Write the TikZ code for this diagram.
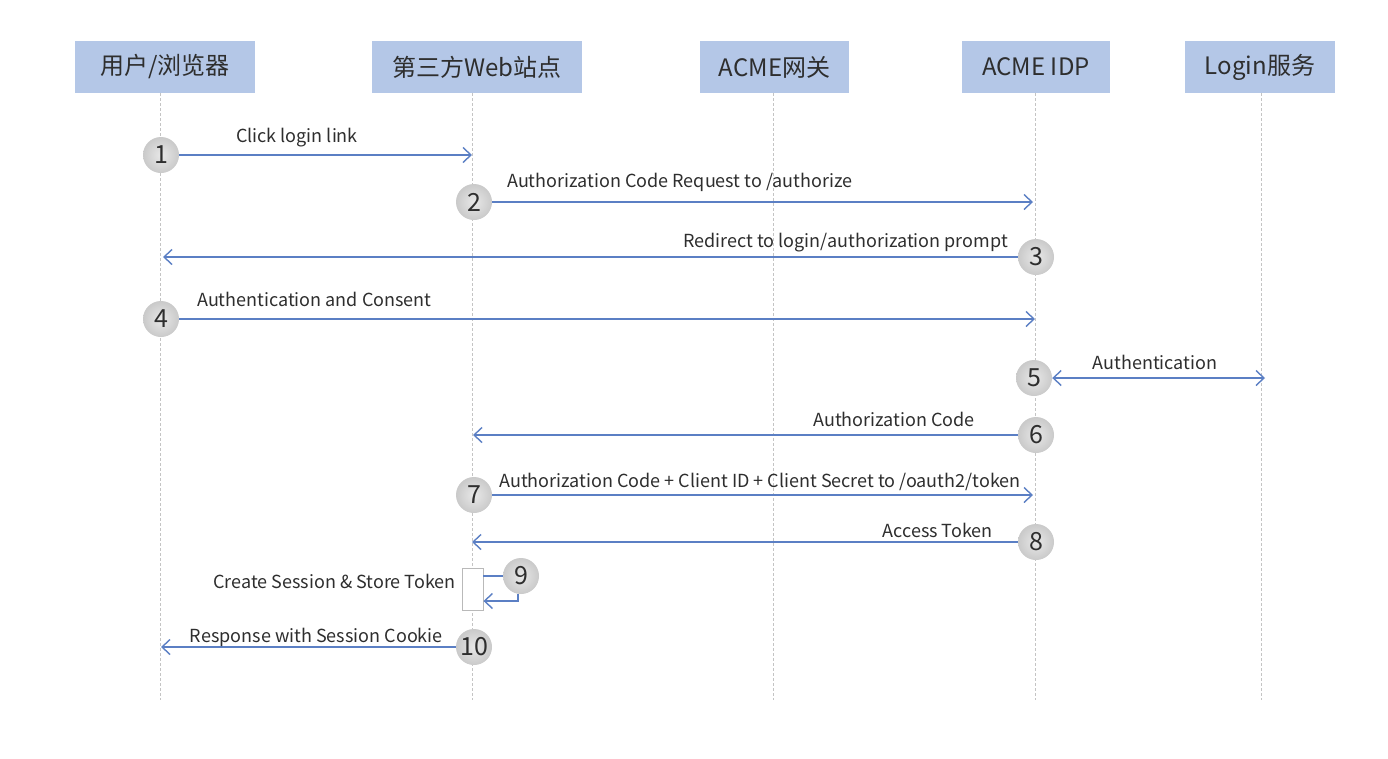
\documentclass[tikz,border=0pt]{standalone}
\usepackage{fontspec}
\setmainfont{Noto Sans CJK SC}
\usetikzlibrary{arrows.meta,calc}
\definecolor{hdr}{HTML}{B4C7E7}
\definecolor{msg}{HTML}{5B7FC4}
\definecolor{txt}{HTML}{2E2E2E}
\definecolor{life}{HTML}{C4C4C4}
\begin{document}
\begin{tikzpicture}[x=1pt,y=-1pt,
 hdrbox/.style={fill=hdr, minimum height=52pt, inner sep=0pt, font=\fontsize{24}{28}\selectfont, text=txt},
 lifeline/.style={draw=life, line width=0.9pt, dash pattern=on 3pt off 2pt},
 numc/.style={circle, shading=radial, inner color=gray!18, outer color=gray!42, minimum size=36pt, inner sep=0pt, font=\fontsize{25}{28}\selectfont, text=txt},
 msgline/.style={draw=msg, line width=1.4pt, -{Straight Barb[length=8pt,width=15pt,line width=1.4pt]}},
 lbl/.style={font=\fontsize{18}{21}\selectfont, text=txt, inner sep=0pt}
]
\useasboundingbox[fill=white] (0,0) rectangle (1388,758);
% headers
\node[hdrbox, minimum width=180pt] (h1) at (165,67) {用户/浏览器};
\node[hdrbox, minimum width=210pt] (h2) at (477,67) {第三方Web站点};
\node[hdrbox, minimum width=149pt] (h3) at (774.5,67) {ACME网关};
\node[hdrbox, minimum width=148pt] (h4) at (1036,67) {ACME IDP};
\node[hdrbox, minimum width=150pt] (h5) at (1260,67) {Login服务};
% lifelines
\coordinate (t1) at (160,93); \coordinate (b1) at (160,700);
\coordinate (t2) at (472,93); \coordinate (b2) at (472,700);
\coordinate (t3) at (773,93); \coordinate (b3) at (773,700);
\coordinate (t4) at (1035,93); \coordinate (b4) at (1035,700);
\coordinate (t5) at (1261,93); \coordinate (b5) at (1261,700);
\foreach \i in {1,...,5}{\draw[lifeline] (t\i) -- (b\i);}
% activation box
\node[draw=gray!55, fill=white, line width=0.9pt, minimum width=21pt, minimum height=42pt, inner sep=0pt] (act) at (472.5,589) {};
% circles
\node[numc] (c1) at (161,155) {1};
\node[numc] (c2) at (474,202) {2};
\node[numc] (c3) at (1036,257) {3};
\node[numc] (c4) at (161,319) {4};
\node[numc] (c5) at (1034,378) {5};
\node[numc] (c6) at (1036,435) {6};
\node[numc] (c7) at (474,495) {7};
\node[numc] (c8) at (1036,542) {8};
\node[numc] (c9) at (521,576) {9};
\node[numc] (c10) at (474,647) {10};
% end coordinates
\coordinate (e1) at (472,155);
\coordinate (e2) at (1033,202);
\coordinate (e3) at (163,257);
\coordinate (e4) at (1035,319);
\coordinate (e5) at (1265,378);
\coordinate (e6) at (473,435);
\coordinate (e7) at (1033,495);
\coordinate (e8) at (472,542);
\coordinate (e10) at (161,647);
% messages
\draw[msgline] (c1.east) -- (e1);
\draw[msgline] (c2.east) -- (e2);
\draw[msgline] (c3.west) -- (e3);
\draw[msgline] (c4.east) -- (e4);
\draw[msgline, {Straight Barb[length=8pt,width=15pt,line width=1.4pt]}-{Straight Barb[length=8pt,width=15pt,line width=1.4pt]}] (c5.east) -- (e5);
\draw[msgline] (c6.west) -- (e6);
\draw[msgline] (c7.east) -- (e7);
\draw[msgline] (c8.west) -- (e8);
\draw[msgline, -] (c9.west) -- (c9.west -| act.east);
\draw[msgline] (c9.south -| 518,0) |- ($(act.east)+(0,12)$);
\draw[msgline] (c10.west) -- (e10);
% labels
\node[lbl] (l1) at (297,138) {Click login link};
\node[lbl, anchor=west] (l2) at (507,182) {Authorization Code Request to /authorize};
\node[lbl, anchor=east] (l3) at (1008,243) {Redirect to login/authorization prompt};
\node[lbl, anchor=west] (l4) at (197,299) {Authentication and Consent};
\node[lbl] (l5) at (1155,362) {Authentication};
\node[lbl, anchor=east] (l6) at (975,419) {Authorization Code};
\node[lbl] (l7) at (760,482) {Authorization Code + Client ID + Client Secret to /oauth2/token};
\node[lbl, anchor=east] (l8) at (993,530) {Access Token};
\node[lbl, anchor=east] (l9) at (456,581) {Create Session \& Store Token};
\node[lbl, anchor=east] (l10) at (443,637) {Response with Session Cookie};
\end{tikzpicture}
\end{document}
